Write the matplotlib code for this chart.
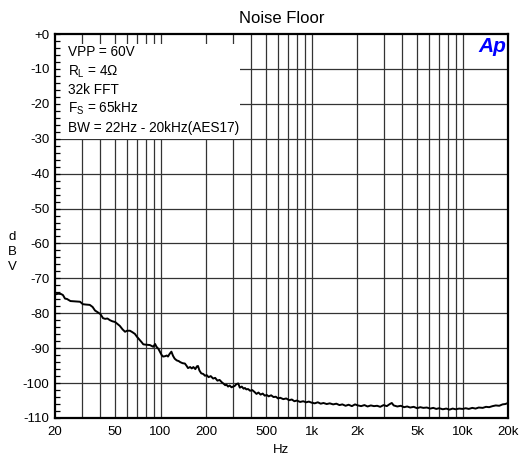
import matplotlib
matplotlib.use("Agg")
import matplotlib.pyplot as plt
from matplotlib.patches import Rectangle
from matplotlib.ticker import FixedLocator, NullFormatter

plt.rcParams['font.family'] = ['Liberation Sans', 'DejaVu Sans']

freq = [20, 21, 22, 22.6, 23.3, 24, 25.3, 27, 29.3, 30.6, 32, 34, 35.5, 36.8, 38, 39.9,
        41.6, 43, 44.5, 46.3, 48, 50, 52, 53.7, 56, 58.2, 60, 62.7, 65, 67.6, 70, 73, 75,
        76.9, 80, 85, 89.5, 92, 94, 96.8, 99, 101.8, 104, 107, 110, 112, 115, 118, 121,
        124, 128, 132, 135, 140, 145, 149, 152, 157, 161, 165, 170, 174, 177, 181, 186,
        192, 197, 202, 208, 215, 223, 230, 238, 246, 255, 262, 268, 274, 280, 287, 295,
        303, 310, 318, 327, 335, 345, 355, 362, 370, 380, 392, 405, 418, 432, 445, 460,
        475, 490, 505, 520, 540, 560, 580, 600, 620, 650, 680, 710, 740, 770, 800, 840,
        880, 920, 960, 1000, 1050, 1100, 1150, 1200, 1260, 1320, 1390, 1460, 1530, 1600,
        1680, 1760, 1850, 1940, 2030, 2130, 2240, 2350, 2470, 2590, 2720, 2850, 3000,
        3150, 3300, 3400, 3500, 3700, 3900, 4100, 4300, 4500, 4750, 5000, 5250, 5500,
        5800, 6100, 6400, 6700, 7000, 7400, 7800, 8200, 8600, 9000, 9500, 10000, 10500,
        11000, 11600, 12200, 12800, 13600, 14300, 15000, 15800, 16600, 17500, 18400,
        19200, 20000]
level_dbv = [-74.6, -74.4, -74.5, -74.8, -75.8, -75.9, -76.5, -76.6, -76.7, -77.4, -77.5,
             -77.6, -78.2, -79.2, -79.6, -80.2, -81.4, -81.6, -81.5, -82.0, -82.3, -82.5,
             -83.1, -83.6, -84.6, -85.3, -85.0, -85.0, -85.4, -85.9, -86.8, -87.7, -88.3,
             -88.9, -89.0, -89.1, -89.6, -88.8, -89.6, -90.2, -91.0, -92.0, -92.4, -92.3,
             -92.1, -92.4, -91.6, -91.0, -92.2, -93.0, -93.5, -93.7, -94.0, -94.3, -94.4,
             -95.1, -95.7, -95.4, -95.8, -95.4, -96.0, -95.2, -95.1, -96.4, -97.2, -97.4,
             -97.9, -97.7, -98.3, -98.0, -98.7, -98.5, -99.3, -99.1, -99.8, -100.2, -100.6,
             -100.5, -101.0, -100.7, -101.2, -101.0, -100.8, -100.3, -100.1, -101.3,
             -101.0, -101.6, -101.4, -101.8, -101.7, -102.2, -102.0, -102.5, -103.1,
             -102.7, -103.3, -103.0, -103.6, -103.4, -103.8, -103.5, -104.0, -103.9,
             -104.4, -104.2, -104.6, -104.4, -104.9, -104.7, -105.2, -105.0, -105.4,
             -105.2, -105.5, -105.3, -105.6, -105.8, -105.5, -105.9, -105.7, -106.0,
             -105.8, -106.1, -105.9, -106.3, -106.1, -106.5, -106.2, -106.6, -106.1,
             -106.4, -106.6, -106.3, -106.7, -106.4, -106.6, -106.5, -106.8, -106.3,
             -106.6, -106.0, -105.7, -106.4, -106.7, -106.5, -106.9, -106.7, -107.0,
             -106.8, -107.2, -106.9, -107.1, -107.0, -107.3, -107.1, -107.4, -107.2,
             -107.5, -107.3, -107.6, -107.3, -107.5, -107.3, -107.4, -107.2, -107.4,
             -107.1, -107.3, -107.0, -107.1, -106.8, -106.9, -106.6, -106.4, -106.5,
             -106.1, -106.0, -105.7]

x_ticks = [20, 50, 100, 200, 500, 1000, 2000, 5000, 10000, 20000]
x_tick_labels = ["20", "50", "100", "200", "500", "1k", "2k", "5k", "10k", "20k"]
x_grid = [30, 40, 50, 60, 70, 80, 90, 100, 200, 300, 400, 500, 600, 700, 800, 900,
          1000, 2000, 3000, 4000, 5000, 6000, 7000, 8000, 9000, 10000]
y_ticks = [0, -10, -20, -30, -40, -50, -60, -70, -80, -90, -100, -110]
y_tick_labels = ["+0", "-10", "-20", "-30", "-40", "-50", "-60", "-70", "-80", "-90",
                 "-100", "-110"]
info_lines = ["VPP = 60V", r"R$_\mathregular{L}$ = 4Ω", "32k FFT",
              r"F$_\mathregular{S}$ = 65kHz", "BW = 22Hz - 20kHz(AES17)"]

fig = plt.figure(figsize=(5.22, 4.68), dpi=100)
ax = fig.add_axes([55 / 522, 1 - 418 / 468, 453 / 522, 384 / 468])
ax.set_xscale('log')
ax.set_xlim(20, 20000)
ax.set_ylim(-110, 0)

for g in x_grid:
    ax.axvline(g, color='#333333', lw=0.9, zorder=1)
for g in y_ticks[1:-1]:
    ax.axhline(g, color='#333333', lw=0.9, zorder=1)

# white panel behind the info text (covers grid, not ticks)
ax.add_patch(Rectangle((0.002, 1 - (138.5 - 34) / 384), 0.406, (138.5 - 43.5) / 384,
                       transform=ax.transAxes, facecolor='white', edgecolor='none',
                       zorder=1.5))

ax.plot(freq, level_dbv, color='black', lw=1.4, zorder=3)

ax.set_xticks(x_ticks)
ax.set_xticklabels(x_tick_labels)
ax.xaxis.set_minor_locator(FixedLocator([]))
ax.xaxis.set_minor_formatter(NullFormatter())
ax.set_yticks(y_ticks)
ax.set_yticklabels(y_tick_labels)
ax.yaxis.set_minor_locator(FixedLocator(list(range(-108, 0, 2))))
ax.tick_params(axis='x', which='both', length=0, pad=6, labelsize=9.5)
ax.tick_params(axis='y', which='both', direction='in', length=3.5, width=0.9,
               pad=4, labelsize=9.5, right=False)
for s in ax.spines.values():
    s.set_linewidth(1.6)
    s.set_zorder(4)

ax.set_title("Noise Floor", fontsize=12, pad=8)
ax.set_xlabel("Hz", fontsize=9.5, labelpad=4)
fig.text(12 / 522, 1 - 252 / 468, "d\nB\nV", ha='center', va='center',
         fontsize=9.5, linespacing=1.3)

text_y = [52, 72, 90, 108, 128]
for t, yp in zip(info_lines, text_y):
    fig.text(68 / 522, 1 - yp / 468, t, ha='left', va='center', fontsize=9.8, zorder=5)

ax.text(0.997, 0.993, "Ap", transform=ax.transAxes, ha='right', va='top',
        color='#0000ff', fontsize=15, fontweight='bold', fontstyle='italic', zorder=5)

fig.savefig("out.png", dpi=100)
